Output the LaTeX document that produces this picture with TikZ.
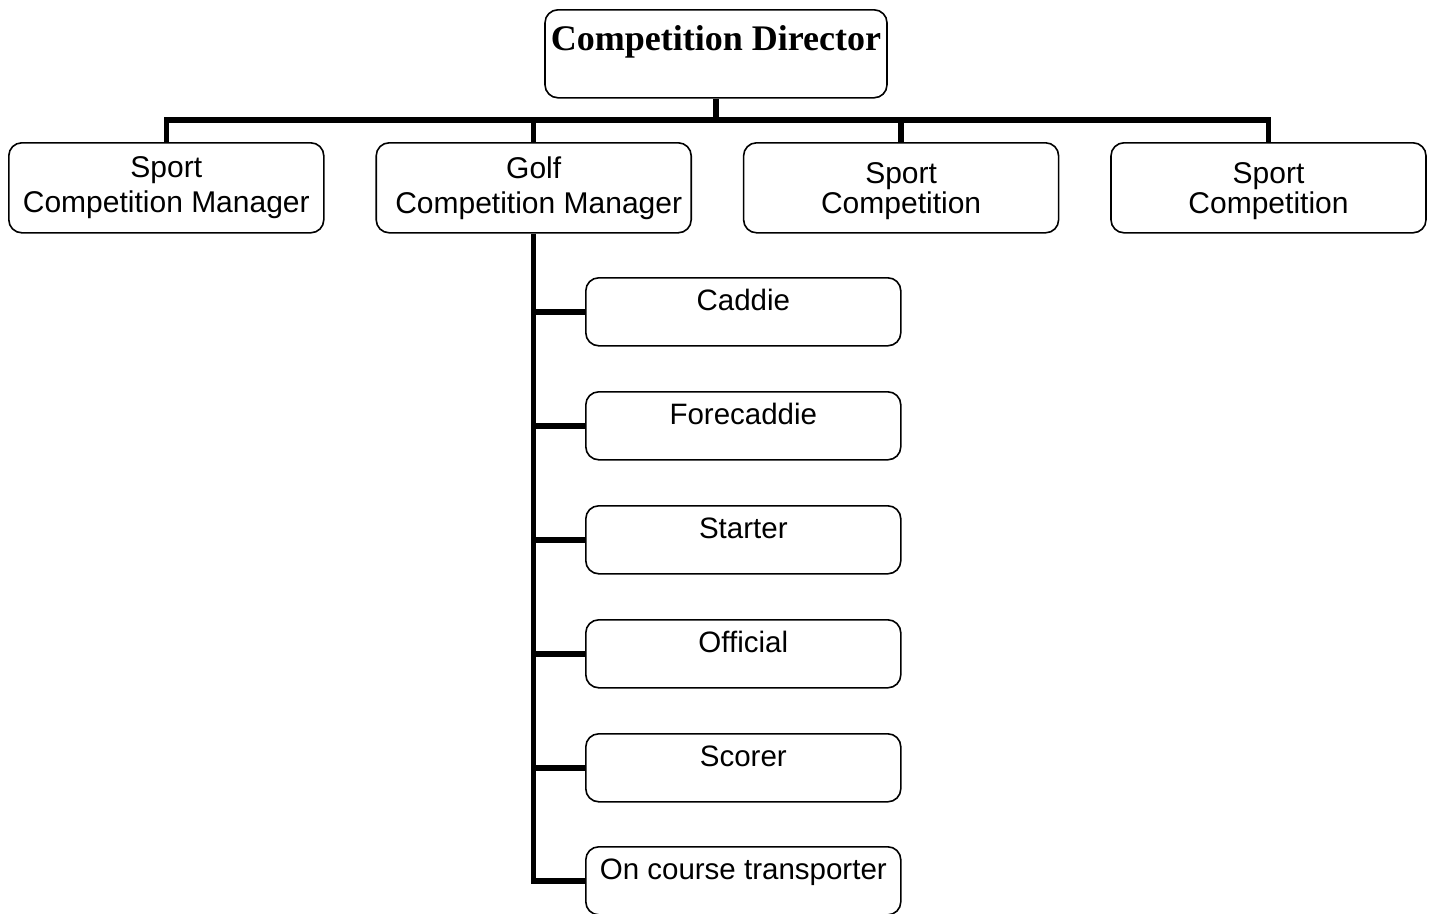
\documentclass[tikz,border=0pt]{standalone}
\usepackage{fontspec}
\setmainfont{Liberation Serif}
\newfontfamily\arialfont{Liberation Sans}
\usetikzlibrary{positioning}

\begin{document}
\begin{tikzpicture}[x=1pt,y=-1pt,
         box/.style = {draw, line width=1.6pt, rounded corners=13pt, inner sep=0pt},
         director/.style = {box, minimum width=342pt, text height=41pt, text depth=47pt,
         font=\bfseries\fontsize{36}{40}\selectfont},
         manager/.style = {box, minimum width=315pt, minimum height=90pt, align=center,
         font=\arialfont\fontsize{30}{35}\selectfont},
         staff/.style = {box, minimum width=315pt, text height=33pt, text depth=35pt,
         font=\arialfont\fontsize{29.5}{34}\selectfont},
         link/.style = {line width=5.5pt}
]
      \useasboundingbox (0,0) rectangle (1432,913);

      % top
      \node[director, anchor=north] (dir) at (716,9) {Competition Director};

      % second row
      \node[manager, anchor=north west] (mgrA) at (8,142) {Sport\\Competition Manager};
      \node[manager, right=50.8pt of mgrA] (mgrB) {Golf\\\hspace*{10pt}Competition Manager};
      \node[manager, right=50.8pt of mgrB, font=\arialfont\fontsize{30}{30}\selectfont] (mgrC)
         {\raisebox{-11pt}[0pt][0pt]{Sport}\\\raisebox{-11pt}[0pt][0pt]{Competition}};
      \node[manager, right=50.8pt of mgrC, font=\arialfont\fontsize{30}{30}\selectfont] (mgrD)
         {\raisebox{-11pt}[0pt][0pt]{Sport}\\\raisebox{-11pt}[0pt][0pt]{Competition}};

      % golf staff
      \node[staff, anchor=north west] (caddie) at (585,277) {Caddie};
      \node[staff, below=44.4pt of caddie] (fore)    {Forecaddie};
      \node[staff, below=44.4pt of fore]   (starter) {Starter};
      \node[staff, below=44.4pt of starter] (official) {Official};
      \node[staff, below=44.4pt of official] (scorer) {Scorer};
      \node[staff, below=43.4pt of scorer] (trans)   {On course transporter};

      % connectors
      \coordinate (bus) at (716,120);
      \draw[link] (dir.south) -- (bus);
      \draw[link] (mgrA.north) |- (bus) -| (mgrD.north);
      \draw[link] (mgrB.north) -- (mgrB.north |- bus);
      \draw[link] (mgrC.north) -- (mgrC.north |- bus);

      \draw[link] (mgrB.south) |- (trans.west);
      \foreach \n in {caddie,fore,starter,official,scorer}
         \draw[link] (mgrB.south |- \n.west) -- (\n.west);
\end{tikzpicture}
\end{document}
